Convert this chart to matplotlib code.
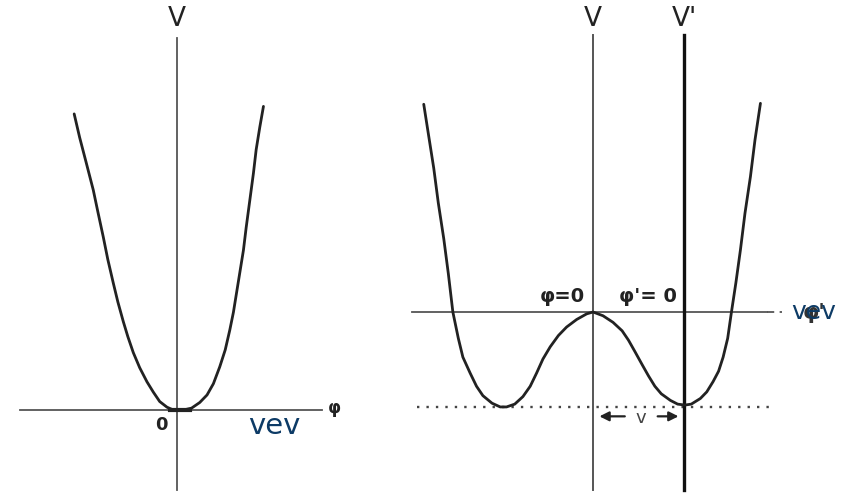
import matplotlib
matplotlib.use("Agg")
import matplotlib.pyplot as plt

# units: phi in vev units (1 vev ~ 91 px), V in well-depth units (~94 px)

# left panel: single well
left_phi = [-1.13, -1.07, -1.00, -0.92, -0.87, -0.81, -0.76, -0.70, -0.65, -0.59,
            -0.54, -0.48, -0.41, -0.33, -0.26, -0.19, -0.11, -0.04, 0.0,
            0.07, 0.16, 0.25, 0.33, 0.40, 0.47, 0.53, 0.58, 0.62, 0.65,
            0.69, 0.73, 0.76, 0.80, 0.84, 0.87, 0.91, 0.95]
left_V = [3.15, 2.90, 2.64, 2.34, 2.11, 1.84, 1.60, 1.35, 1.15, 0.94,
          0.78, 0.61, 0.45, 0.30, 0.19, 0.09, 0.03, 0.0, 0.0,
          0.0, 0.02, 0.08, 0.16, 0.28, 0.46, 0.64, 0.85, 1.04, 1.22,
          1.46, 1.70, 1.94, 2.23, 2.52, 2.77, 3.01, 3.23]

# right panel: double well
right_phi = [-1.86, -1.81, -1.75, -1.70, -1.64, -1.59, -1.54, -1.48, -1.43, -1.35,
             -1.28, -1.21, -1.11, -1.02, -0.95, -0.86, -0.77, -0.69, -0.62, -0.55,
             -0.47, -0.38, -0.29, -0.18, -0.07, 0.0,
             0.11, 0.22, 0.32, 0.39, 0.46, 0.54, 0.61, 0.68, 0.75, 0.85,
             0.93, 1.01, 1.08, 1.18, 1.25, 1.32, 1.38, 1.43, 1.48, 1.52,
             1.57, 1.62, 1.67, 1.73, 1.78, 1.84]
right_V = [2.21, 1.90, 1.53, 1.16, 0.78, 0.41, 0.0, -0.28, -0.48, -0.65,
           -0.79, -0.89, -0.97, -1.01, -1.01, -0.98, -0.90, -0.79, -0.65, -0.50,
           -0.37, -0.25, -0.16, -0.08, -0.02, 0.0,
           -0.04, -0.11, -0.20, -0.30, -0.42, -0.56, -0.68, -0.79, -0.87, -0.94,
           -0.98, -0.99, -0.98, -0.92, -0.85, -0.74, -0.63, -0.48, -0.28, -0.01,
           0.31, 0.66, 1.05, 1.44, 1.83, 2.22]

vev = 1.0
V_min = -1.01

ink = "#222222"
axis_col = "#555555"
blue = "#0d3b66"
narrow = ["Liberation Sans Narrow", "DejaVu Sans"]

fig = plt.figure(figsize=(8.44, 4.93), dpi=100)

# ---- left panel ----
axL = fig.add_axes([0, 0, 400 / 844, 1])
axL.set_xlim((0 - 177) / 91, (400 - 177) / 91)
axL.set_ylim((410 - 493) / 94, 410 / 94)
axL.axis("off")

axL.plot([-1.72, 1.59], [0, 0], color=axis_col, lw=1.3)
axL.plot([0, 0], [-0.85, 3.96], color=axis_col, lw=1.3)
axL.plot(left_phi, left_V, color=ink, lw=2.0, solid_capstyle="round", solid_joinstyle="round")
axL.plot([-0.08, 0.14], [0, 0], color=ink, lw=3.0)

axL.text(0, 4.16, "V", ha="center", va="center", fontsize=19, color=ink, family=narrow)
axL.text(1.73, 0.02, "φ", ha="center", va="center", fontsize=12, color=ink, weight="bold")
axL.text(-0.17, -0.16, "0", ha="center", va="center", fontsize=13, color=ink, weight="bold",
         family=narrow)
axL.text(1.07, -0.17, "vev", ha="center", va="center", fontsize=21, color=blue)

# ---- right panel ----
axR = fig.add_axes([400 / 844, 0, 444 / 844, 1])
axR.set_xlim((400 - 593) / 91, (844 - 593) / 91)
axR.set_ylim((312 - 493) / 94, 312 / 94)
axR.axis("off")

axR.plot([-1.99, 1.91], [0, 0], color=axis_col, lw=1.3)
axR.plot([1.91, 2.08], [0, 0], color=axis_col, lw=1.3, ls=(0, (4, 3)))
axR.plot([-1.93, 1.95], [V_min, V_min], color="#444444", lw=1.7, ls=(0, (1, 3)))
axR.plot([0, 0], [-1.89, 2.95], color=axis_col, lw=1.4)
axR.plot([vev, vev], [-1.89, 2.95], color="#111111", lw=2.4)
axR.plot(right_phi, right_V, color=ink, lw=2.0, solid_capstyle="round", solid_joinstyle="round")

axR.text(0, 3.12, "V", ha="center", va="center", fontsize=19, color=ink, family=narrow)
axR.text(vev, 3.12, "V'", ha="center", va="center", fontsize=19, color=ink, family=narrow)
axR.text(-0.34, 0.16, "φ=0", ha="center", va="center", fontsize=14, color=ink, weight="bold",
         family=narrow)
axR.text(0.60, 0.16, "φ'= 0", ha="center", va="center", fontsize=14, color=ink, weight="bold",
         family=narrow)

# arrow marking the vev
arr = dict(arrowstyle="-|>", color=ink, lw=1.6, mutation_scale=14)
axR.annotate("", xy=(0.04, -1.11), xytext=(0.38, -1.11), arrowprops=arr)
axR.annotate("", xy=(0.97, -1.11), xytext=(0.68, -1.11), arrowprops=arr)
axR.text(0.53, -1.13, "v", ha="center", va="center", fontsize=13, color="#444444")

# phi' label with the vev overlay on top
axR.text(2.43, -0.01, "φ'", ha="center", va="center", fontsize=15, color="#333333", weight="bold")
axR.text(2.43, 0.0, "vev", ha="center", va="center", fontsize=18, color=blue)

fig.savefig("out.png", dpi=100)
